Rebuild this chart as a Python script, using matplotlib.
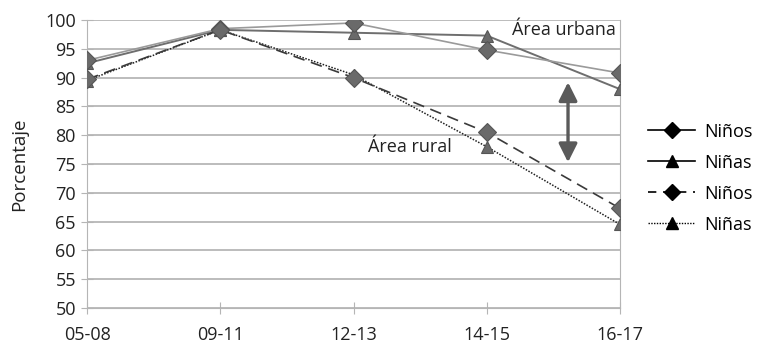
import matplotlib.pyplot as plt

# Data
periodos = ['05-08', '09-11', '12-13', '14-15', '16-17']
urbana_ninos = [93.0, 98.5, 99.5, 94.8, 90.8]
urbana_ninas = [92.5, 98.3, 97.8, 97.3, 88.0]
rural_ninos = [89.7, 98.3, 90.0, 80.5, 67.3]
rural_ninas = [89.5, 98.3, 90.5, 78.0, 64.5]
brecha = (89.2, 75.3)

plt.rcParams['font.family'] = ['Open Sans', 'DejaVu Sans']

fig = plt.figure(figsize=(7.57, 3.46), dpi=100)
ax = fig.add_axes([0.115, 0.110, 0.704, 0.832])

x = list(range(len(periodos)))
mk = dict(markerfacecolor='#6a6a6a', markeredgecolor='#555555', markeredgewidth=0.8)

# Plot lines (grey markers), then black proxies for the legend
ax.plot(x, urbana_ninos, color='#9a9a9a', lw=1.2, marker='D', ms=9, zorder=4, **mk)
ax.plot(x, urbana_ninas, color='#6e6e6e', lw=1.4, marker='^', ms=9, zorder=3, **mk)
ax.plot(x, rural_ninos, color='#3a3a3a', lw=1.2, ls=(0, (7, 4)), marker='D', ms=9, zorder=4, **mk)
ax.plot(x, rural_ninas, color='#202020', lw=1.1, ls=(0, (1, 1)), marker='^', ms=9, zorder=3, **mk)

h1, = ax.plot([], [], color='black', lw=1.2, marker='D', ms=8, mfc='black', mec='black')
h2, = ax.plot([], [], color='black', lw=1.2, marker='^', ms=8, mfc='black', mec='black')
h3, = ax.plot([], [], color='black', lw=1.2, ls=(0, (5, 4)), marker='D', ms=8, mfc='black', mec='black')
h4, = ax.plot([], [], color='black', lw=1.0, ls=(0, (1, 1)), marker='^', ms=8, mfc='black', mec='black')
fig.legend([h1, h2, h3, h4], ['Niños', 'Niñas', 'Niños', 'Niñas'],
           loc='center left', bbox_to_anchor=(0.835, 0.485), frameon=False,
           fontsize=13, handlelength=2.6, labelspacing=0.72, handletextpad=0.5)

# Double arrow showing the gap
ax.annotate('', xy=(3.61, brecha[1]), xytext=(3.61, brecha[0]),
            arrowprops=dict(arrowstyle='<|-|>', color='#5a5a5a', lw=2.4,
                            mutation_scale=28, shrinkA=0, shrinkB=0), zorder=5)

ax.text(3.97, 98.3, 'Área urbana', fontsize=13, ha='right', va='center', color='#222222')
ax.text(2.42, 78.0, 'Área rural', fontsize=13, ha='center', va='center', color='#222222')

ax.set_xlim(0, 4)
ax.set_ylim(50, 100)
ax.set_yticks(range(50, 101, 5))
ax.set_xticks(x)
ax.set_xticklabels(periodos)
ax.yaxis.grid(True, color='#b0b0b0', lw=1.2)
ax.set_axisbelow(True)
for s in ax.spines.values():
    s.set_color('#b5b5b5')
ax.spines['top'].set_visible(False)
ax.tick_params(axis='both', direction='inout', length=8, color='#b5b5b5',
               labelsize=13, labelcolor='#222222')
ax.tick_params(axis='y', pad=4)
ax.tick_params(axis='x', pad=9)
ax.set_ylabel('Porcentaje', fontsize=13.5, color='#222222', labelpad=12)

for t in ax.get_xticklabels() + ax.get_yticklabels():
    t.set_clip_on(False)

fig.savefig('out.png', dpi=100)
